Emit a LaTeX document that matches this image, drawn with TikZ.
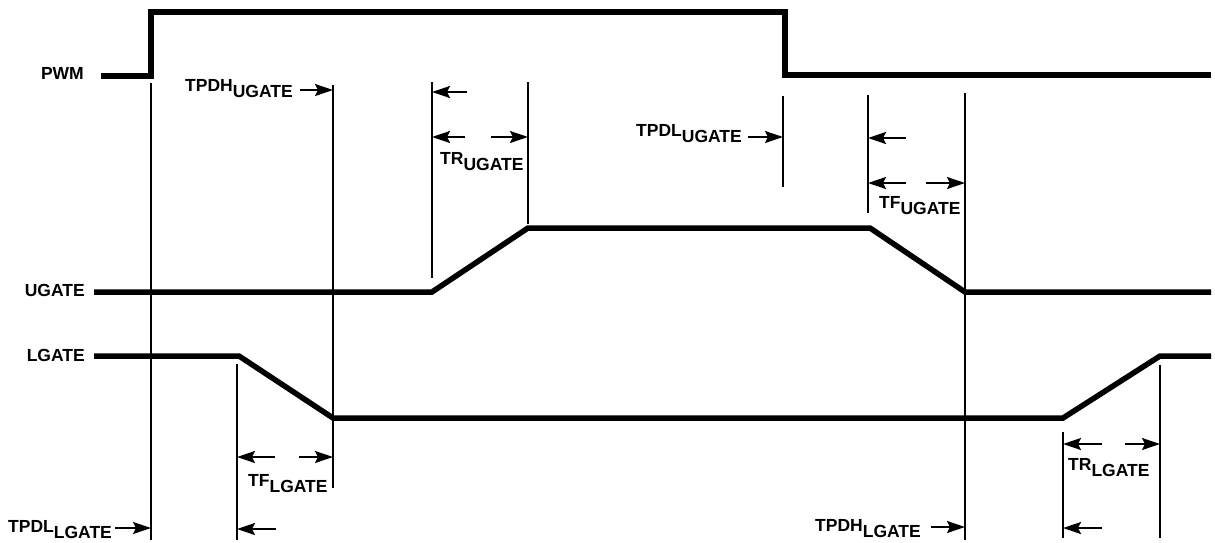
\documentclass[tikz,border=0pt]{standalone}
\usepackage{fontspec}
\setmainfont{Liberation Sans}
\usetikzlibrary{arrows.meta}
\newcommand{\sgl}[2]{#1\raisebox{-6pt}{#2}}
\begin{document}
\begin{tikzpicture}[x=1pt,y=-1pt,
  wave/.style={line width=5.5pt,line join=miter},
  guide/.style={line width=2pt},
  arr/.style={line width=2.2pt,-{Stealth[length=18pt,width=12pt,inset=3pt]}},
  lbl/.style={inner sep=0pt,anchor=base west,font=\fontsize{17.5}{17.5}\selectfont\bfseries},
  sig/.style={inner sep=0pt,anchor=base east,font=\fontsize{17.5}{17.5}\selectfont\bfseries}]
\useasboundingbox (0,0) rectangle (1215,542);
% signal names
\node[sig] (pwm) at (84,79) {PWM};
\node[sig] (ug) at (85,296) {UGATE};
\node[sig] (lg) at (85,361) {LGATE};
% waveforms
\draw[wave] (101,76) -- (151,76) -- (151,12) -- (785,12) -- (785,75) -- (1211,75);
\draw[wave] (94,292) -- (432,292) -- (528,228) -- (870,228) -- (965,292) -- (1211,292);
\draw[wave] (94,356) -- (239,356) -- (333,418) -- (1063,418) -- (1160,356) -- (1211,356);
% guide lines
\draw[guide] (151,83) -- (151,540);
\draw[guide] (333,85) -- (333,488);
\draw[guide] (432,82) -- (432,278);
\draw[guide] (528,82) -- (528,224);
\draw[guide] (783,96) -- (783,187);
\draw[guide] (868,95) -- (868,213);
\draw[guide] (965,93) -- (965,540);
\draw[guide] (237,364) -- (237,540);
\draw[guide] (1063,432) -- (1063,538);
\draw[guide] (1160,365) -- (1160,538);
% timing labels
\node[lbl] (tpdhu) at (185,91) {\sgl{TPDH}{UGATE}};
\draw[arr] (300,90) -- (333,90);
\draw[arr] (467,92) -- (432,92);
\draw[arr] (465,137) -- (432,137);
\draw[arr] (491,137) -- (528,137);
\node[lbl] (tru) at (440,164) {\sgl{TR}{UGATE}};
\node[lbl] (tpdlu) at (636,136) {\sgl{TPDL}{UGATE}};
\draw[arr] (748,137) -- (783,137);
\draw[arr] (906,138) -- (868,138);
\draw[arr] (906,183) -- (868,183);
\draw[arr] (926,183) -- (965,183);
\node[lbl] (tfu) at (879,208) {\sgl{TF}{UGATE}};
\draw[arr] (275,457) -- (237,457);
\draw[arr] (299,457) -- (333,457);
\node[lbl] (tfl) at (248,486) {\sgl{TF}{LGATE}};
\node[lbl] (tpdll) at (8,532) {\sgl{TPDL}{LGATE}};
\draw[arr] (115,528) -- (151,528);
\draw[arr] (276,529) -- (237,529);
\node[lbl] (tpdhl) at (815,531) {\sgl{TPDH}{LGATE}};
\draw[arr] (931,527) -- (965,527);
\draw[arr] (1102,444) -- (1063,444);
\draw[arr] (1125,444) -- (1160,444);
\node[lbl] (trl) at (1068,470) {\sgl{TR}{LGATE}};
\draw[arr] (1102,528) -- (1063,528);
\end{tikzpicture}
\end{document}
